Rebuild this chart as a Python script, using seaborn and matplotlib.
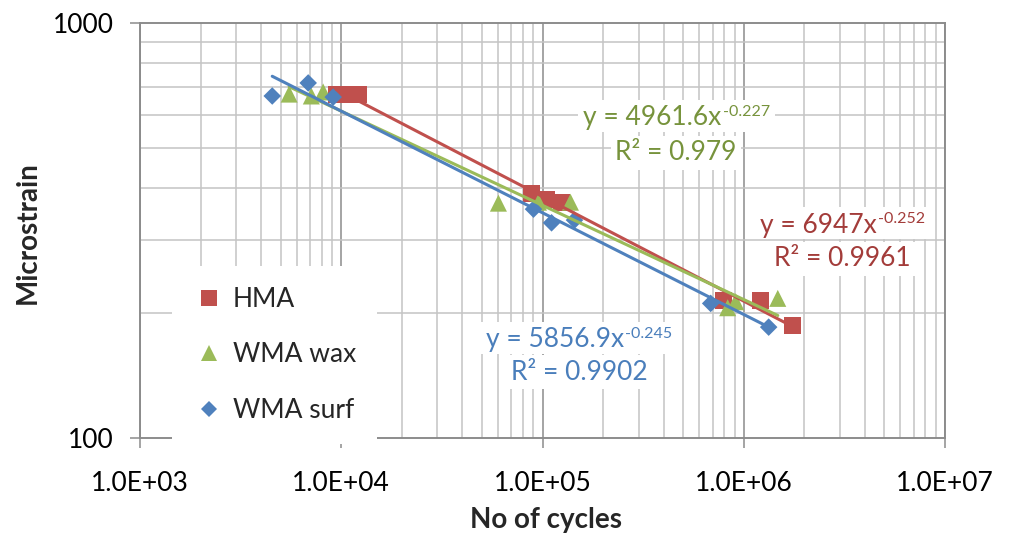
import numpy as np
import pandas as pd
import matplotlib
matplotlib.use("Agg")
import matplotlib.pyplot as plt
from matplotlib.lines import Line2D
from matplotlib.patches import Rectangle
from matplotlib.ticker import LogLocator, NullFormatter, FixedLocator, FixedFormatter
import seaborn as sns

# ---- data -------------------------------------------------------------
series_names = ["HMA", "WMA wax", "WMA surf"]

hma_cycles = [9440, 10700, 12160, 88100, 104800, 124400, 794000, 1216000, 1754000]
hma_strain = [671, 671, 671, 389, 375, 370, 215, 214, 187]

wax_cycles = [5510, 7100, 8130, 60400, 95500, 137700, 832000, 912000, 1476000]
wax_strain = [674, 667, 682, 368, 370, 370, 206, 213, 217]

surf_cycles = [4540, 6850, 9120, 90200, 110900, 144200, 685000, 1330000]
surf_strain = [667, 717, 663, 356, 330, 335, 211, 185]

# power-law trendlines  y = a * x^b
fit_coef = [6947, 4961.6, 5856.9]
fit_exp = [-0.252, -0.227, -0.245]
fit_coef_text = ["6947", "4961.6", "5856.9"]
fit_r2_text = ["0.9961", "0.979", "0.9902"]

x_tick_values = [1e3, 1e4, 1e5, 1e6, 1e7]
x_tick_labels = ["1.0E+03", "1.0E+04", "1.0E+05", "1.0E+06", "1.0E+07"]
y_tick_values = [100, 1000]
y_tick_labels = ["100", "1000"]

# ---- styling ----------------------------------------------------------
marker_colors = ["#C0504D", "#9BBB59", "#4F81BD"]
text_colors = ["#A33C3A", "#77933C", "#4A7EBB"]
markers = ["s", "^", "D"]
marker_sizes = [150, 150, 80]

sns.set_theme(style="white")
plt.rcParams["font.family"] = ["Lato", "DejaVu Sans"]

W, H, DPI = 1012, 538, 100
fig = plt.figure(figsize=(W / DPI, H / DPI), dpi=DPI)
fig.patch.set_facecolor("white")
L, R, T, B = 140, 945, 23, 438
ax = fig.add_axes([L / W, 1 - B / H, (R - L) / W, (B - T) / H])

frames = []
for name, xs, ys in zip(series_names,
                        [hma_cycles, wax_cycles, surf_cycles],
                        [hma_strain, wax_strain, surf_strain]):
    frames.append(pd.DataFrame({"cycles": xs, "strain": ys, "mix": name}))
df = pd.concat(frames, ignore_index=True)

ax.set_xscale("log")
ax.set_yscale("log")

for i, name in enumerate(series_names):
    sub = df[df["mix"] == name]
    sns.scatterplot(data=sub, x="cycles", y="strain", ax=ax, color=marker_colors[i],
                    marker=markers[i], s=marker_sizes[i], edgecolor="none",
                    linewidth=0, legend=False, zorder=3)

for i, name in enumerate(series_names):
    sub = df[df["mix"] == name]
    xs = np.geomspace(sub["cycles"].min(), sub["cycles"].max(), 200)
    ys = fit_coef[i] * xs ** fit_exp[i]
    sns.lineplot(x=xs, y=ys, ax=ax, color=marker_colors[i], lw=2.2,
                 legend=False, zorder=4, sort=False)

ax.set_xlim(1e3, 1e7)
ax.set_ylim(100, 1000)

# grid: light minor lines, darker major lines
ax.xaxis.set_major_locator(FixedLocator(x_tick_values))
ax.xaxis.set_major_formatter(FixedFormatter(x_tick_labels))
ax.yaxis.set_major_locator(FixedLocator(y_tick_values))
ax.yaxis.set_major_formatter(FixedFormatter(y_tick_labels))
ax.xaxis.set_minor_locator(LogLocator(base=10, subs=np.arange(2, 10), numticks=20))
ax.yaxis.set_minor_locator(LogLocator(base=10, subs=np.arange(2, 10), numticks=20))
ax.xaxis.set_minor_formatter(NullFormatter())
ax.yaxis.set_minor_formatter(NullFormatter())
ax.grid(True, which="minor", color="#C4C4C4", lw=1.1, zorder=0)
ax.grid(True, which="major", axis="x", color="#8C8C8C", lw=1.1, zorder=0)
ax.set_axisbelow(True)

for side in ["left", "bottom", "top", "right"]:
    ax.spines[side].set_visible(True)
    ax.spines[side].set_color("#8C8C8C")
    ax.spines[side].set_linewidth(1.4)

ax.tick_params(axis="both", which="major", direction="out", length=7, width=1.1,
               color="#8C8C8C", labelsize=19, labelcolor="black")
ax.tick_params(axis="x", which="major", pad=17, bottom=True)
ax.tick_params(axis="y", which="major", pad=12, left=True)
ax.tick_params(axis="both", which="minor", length=0)

ax.set_xlabel("")
ax.set_ylabel("")
fig.text(546 / W, 1 - 520 / H, "No of cycles", ha="center", va="center",
         fontsize=20, fontweight="bold")
fig.text(28 / W, 1 - 233 / H, "Microstrain", ha="center", va="center",
         rotation=90, fontsize=20, fontweight="bold")

# trendline equations (base text + raised exponent, centred as a group)
renderer = fig.canvas.get_renderer()
bb = dict(facecolor="white", edgecolor="none", pad=3)
label_pos = [(842, 223, 259), (676, 116, 153), (579, 338, 372)]
for i in range(3):
    cx, y1, y2 = label_pos[i]
    t1 = fig.text(0, 0, "y = " + fit_coef_text[i] + "x", fontsize=19,
                  color=text_colors[i], ha="left", va="baseline", zorder=7)
    t2 = fig.text(0, 0, f"{fit_exp[i]:.3f}", fontsize=11.5,
                  color=text_colors[i], ha="left", va="baseline", zorder=7)
    w1 = t1.get_window_extent(renderer).width
    w2 = t2.get_window_extent(renderer).width
    x0 = cx - (w1 + w2) / 2
    t1.set_position((x0 / W, 1 - (y1 + 9.5) / H))
    t2.set_position(((x0 + w1 + 1) / W, 1 - (y1 - 0.5) / H))
    # white backing for the equation line
    fig.patches.append(Rectangle(((x0 - 5) / W, 1 - (y1 + 16) / H),
                                 (w1 + w2 + 11) / W, 32 / H,
                                 transform=fig.transFigure, facecolor="white",
                                 edgecolor="none", zorder=6))
    fig.text(cx / W, 1 - y2 / H, "R² = " + fit_r2_text[i],
             ha="center", va="center", fontsize=19, color=text_colors[i], bbox=bb,
             zorder=7)

# legend
handles = [Line2D([], [], ls="none", marker=markers[i], color=marker_colors[i],
                  markersize=[11, 11, 8][i], markeredgewidth=0)
           for i in range(3)]
leg = ax.legend(handles, series_names, loc="upper left",
                bbox_to_anchor=(172 / W, 1 - 266 / H), bbox_transform=fig.transFigure,
                frameon=True, facecolor="white", edgecolor="none", framealpha=1,
                fontsize=19, labelspacing=1.15, handletextpad=0.3,
                handlelength=1.2, borderpad=0.8, borderaxespad=0)
leg.set_zorder(5)

fig.savefig("out.png", dpi=DPI, facecolor="white")
